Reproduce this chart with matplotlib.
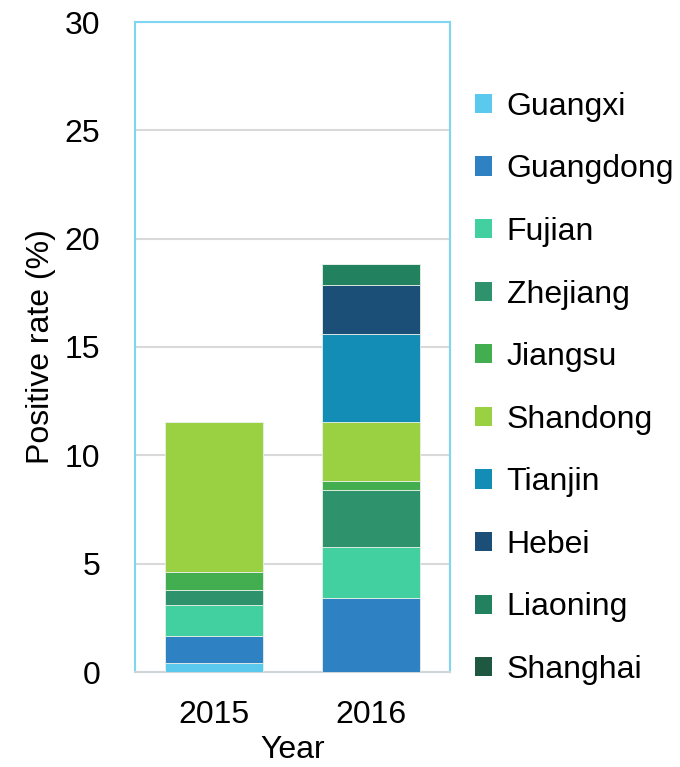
import matplotlib.pyplot as plt
import matplotlib.patches as patches
import numpy as np

plt.rcParams['font.family'] = ['Liberation Sans', 'DejaVu Sans']

years = ['2015', '2016']
provinces = ['Guangxi', 'Guangdong', 'Fujian', 'Zhejiang', 'Jiangsu',
             'Shandong', 'Tianjin', 'Hebei', 'Liaoning', 'Shanghai']
# positive rate (%) per province, stacked bottom -> top
rate_2015 = [0.40, 1.28, 1.41, 0.68, 0.86, 6.92, 0.0, 0.0, 0.0, 0.0]
rate_2016 = [0.0, 3.40, 2.38, 2.62, 0.40, 2.75, 4.05, 2.26, 0.97, 0.0]
colors = ['#5BC8EE', '#2E81C3', '#42D0A0', '#2E936C', '#43AE50',
          '#9AD142', '#138DB5', '#1C4F77', '#22825F', '#1E5840']

fig = plt.figure(figsize=(6.8, 7.67), dpi=100)
ax = fig.add_axes([135 / 680, 1 - 672 / 767, 315 / 680, 650 / 767])

x = np.arange(len(years))
bottom = np.zeros(len(years))
for i, name in enumerate(provinces):
    vals = np.array([rate_2015[i], rate_2016[i]])
    ax.bar(x, vals, width=0.62, bottom=bottom, color=colors[i],
           edgecolor='#e8f0e8', linewidth=0.6, zorder=3)
    bottom += vals

ax.set_xlim(-0.5, 1.5)
ax.set_ylim(0, 30)
ax.set_yticks(range(0, 31, 5))
ax.set_xticks(x)
ax.set_xticklabels(years)
ax.tick_params(length=0, labelsize=23)
ax.tick_params(axis='x', pad=20)
ax.tick_params(axis='y', pad=25)
ax.grid(axis='y', color='#D9D9D9', linewidth=1.5, zorder=0)

for side in ['left', 'top', 'right']:
    ax.spines[side].set_color('#7FD6F2')
    ax.spines[side].set_linewidth(1.5)
ax.spines['bottom'].set_color('#D0D5D9')
ax.spines['bottom'].set_linewidth(1.5)

ax.set_xlabel('Year', fontsize=23, labelpad=4)
ax.set_ylabel('Positive rate (%)', fontsize=23)
ax.yaxis.set_label_coords(-0.25, 0.5)

# legend, Guangxi at the top
handles = [patches.Patch(facecolor=c, edgecolor='none') for c in colors]
fig.legend(handles, provinces, loc='upper left', bbox_to_anchor=(462 / 680, 1 - 79 / 767),
           frameon=False, fontsize=23, handlelength=0.55, handleheight=0.55,
           handletextpad=0.45, labelspacing=1.02, borderaxespad=0)

fig.savefig('out.png', dpi=100)
